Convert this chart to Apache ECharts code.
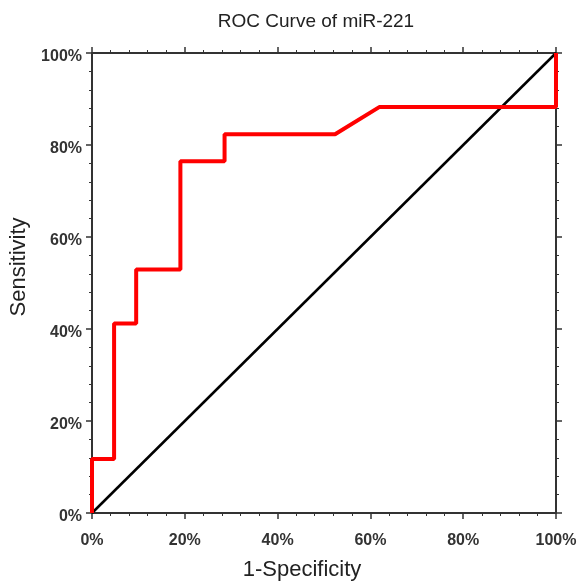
<!DOCTYPE html>
<html>
<head>
<meta charset="utf-8">
<script src="https://cdn.jsdelivr.net/npm/echarts@6/dist/echarts.min.js"></script>
<style>html,body{margin:0;padding:0;background:#fff}#c{width:582px;height:586px}</style>
</head>
<body>
<div id="c"></div>
<script>
// 1-Specificity (FPR) and Sensitivity (TPR) of the ROC curve
var fpr = [0, 0, 0.0476, 0.0476, 0.0952, 0.0952, 0.1905, 0.1905, 0.2857, 0.2857, 0.5238, 0.619, 1, 1];
var tpr = [0, 0.1176, 0.1176, 0.4118, 0.4118, 0.5294, 0.5294, 0.7647, 0.7647, 0.8235, 0.8235, 0.8824, 0.8824, 1];
var refX = [0, 1];
var refY = [0, 1];
var tickValues = [0, 0.2, 0.4, 0.6, 0.8, 1];

var rocData = fpr.map(function (x, i) { return [x, tpr[i]]; });
var refData = refX.map(function (x, i) { return [x, refY[i]]; });

var chart = echarts.init(document.getElementById('c'));
var axisColor = '#333';
var FONT = 'Arial, Liberation Sans, sans-serif';
function pct(v) { return Math.round(v * 100) + '%'; }
function baseAxis(extra) {
  var a = {
    type: 'value', min: 0, max: 1, interval: 0.2,
    axisLine: { show: true, onZero: false, lineStyle: { color: axisColor, width: 2 } },
    axisTick: { show: true, inside: false, length: 6, lineStyle: { color: axisColor, width: 1.5 } },
    minorTick: { show: true, splitNumber: 5, length: 3, lineStyle: { color: axisColor, width: 1 } },
    splitLine: { show: false },
    axisLabel: { show: false }
  };
  for (var k in extra) a[k] = extra[k];
  return a;
}
var labelStyle = { color: '#333', fontSize: 16, fontWeight: 'bold', fontFamily: FONT };
chart.setOption({
  animation: false,
  backgroundColor: '#fff',
  title: {
    text: 'ROC Curve of miR-221',
    left: 311, top: 7, textAlign: 'center',
    textStyle: { fontSize: 19, fontWeight: 'normal', color: '#222', fontFamily: FONT }
  },
  grid: { left: 92, right: 26, top: 53, bottom: 69, containLabel: false },
  xAxis: [
    baseAxis({ position: 'bottom', name: '1-Specificity', nameLocation: 'middle', nameGap: 46,
      nameTextStyle: { fontSize: 22, color: '#222', fontFamily: FONT, padding: [0, 44, 0, 0] },
      axisLabel: Object.assign({ show: true, formatter: pct, margin: 20 }, labelStyle) }),
    baseAxis({ position: 'top' })
  ],
  yAxis: [
    baseAxis({ position: 'left', name: 'Sensitivity', nameLocation: 'middle', nameGap: 59,
      nameTextStyle: { fontSize: 22, color: '#222', fontFamily: FONT, padding: [0, 0, 0, 32] },
      axisLabel: Object.assign({ show: true, formatter: pct, margin: 10, verticalAlign: 'top', lineHeight: 8 }, labelStyle) }),
    baseAxis({ position: 'right' })
  ],
  series: [
    { type: 'line', data: refData, xAxisIndex: 0, yAxisIndex: 0, symbol: 'none',
      lineStyle: { color: '#000', width: 2.5 }, z: 2 },
    { type: 'line', data: rocData, xAxisIndex: 0, yAxisIndex: 0, symbol: 'none',
      lineStyle: { color: '#ff0000', width: 4 }, z: 3 }
  ]
});
</script>
</body>
</html>
